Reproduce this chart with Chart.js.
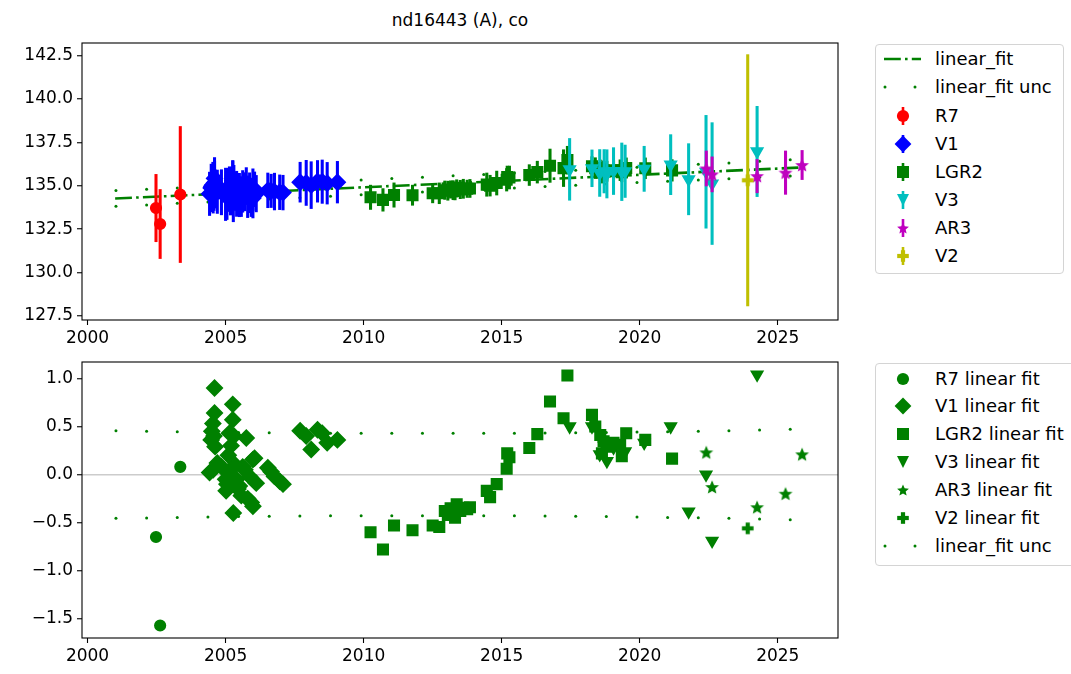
<!DOCTYPE html>
<html>
<head>
<meta charset="utf-8">
<script src="https://cdn.jsdelivr.net/npm/chart.js@4.4.1/dist/chart.umd.min.js"></script>
<style>
  html, body { margin: 0; padding: 0; background: #fff; }
  #fig { position: relative; width: 1071px; height: 674px; overflow: hidden; font-family: 'DejaVu Sans', sans-serif; color: #000; }
  #title { position: absolute; left: 82px; width: 756px; top: 9px; line-height: 22px; text-align: center; font-size: 17px; }
  .wrap { position: absolute; left: 0; width: 860px; }
  #topWrap { top: 0; height: 356px; }
  #botWrap { top: 344px; height: 330px; }
  .legend { position: absolute; left: 875px; border: 1px solid #d4d4d4; border-radius: 4px; background: #fff; font-size: 18px; }
  .legend .row { position: absolute; left: 0; height: 28px; width: 100%; white-space: nowrap; }
  .legend svg { position: absolute; left: 0; top: 0; }
  .legend span { position: absolute; left: 59px; top: 0; line-height: 28px; }
</style>
</head>
<body>
<div id="fig">
  <div id="title">nd16443 (A), co</div>
  <div class="wrap" id="topWrap"><canvas id="topCanvas"></canvas></div>
  <div class="wrap" id="botWrap"><canvas id="botCanvas"></canvas></div>
  <div class="legend" id="topLegend" style="top:44px; width:187px; height:228px;"></div>
  <div class="legend" id="botLegend" style="top:363px; width:210px; height:201px;"></div>
</div>
<script>
// axis limits
const X_MIN = 1999.8, X_MAX = 2027.18;
const TOP_MIN = 127.27, TOP_MAX = 143.23;
const BOT_MIN = -1.70, BOT_MAX = 1.17;
const xTicksStep = 5;

// linear fit
const fitX = [2001.0, 2025.9];
const fitY = [134.27, 136.06];

// fit uncertainty (dots)
const uncX = [2001.03, 2002.14, 2003.25, 2004.36, 2005.47, 2006.58, 2007.69, 2008.80, 2009.91, 2011.02, 2012.13, 2013.24,
  2014.35, 2015.46, 2016.57, 2017.68, 2018.79, 2019.90, 2021.01, 2022.12, 2023.23, 2024.34, 2025.45];
const uncTopHi = [134.73, 134.80, 134.88, 134.95, 135.03, 135.11, 135.18, 135.26, 135.34, 135.42, 135.50, 135.58,
  135.66, 135.74, 135.82, 135.90, 135.99, 136.07, 136.16, 136.24, 136.32, 136.41, 136.50];
const uncTopLo = [133.82, 133.90, 133.99, 134.07, 134.16, 134.24, 134.32, 134.40, 134.48, 134.56, 134.64, 134.72,
  134.80, 134.88, 134.96, 135.04, 135.11, 135.19, 135.26, 135.34, 135.41, 135.49, 135.56];
const uncResHi = [0.456, 0.451, 0.446, 0.441, 0.436, 0.434, 0.431, 0.430, 0.429, 0.429, 0.428, 0.428,
  0.428, 0.429, 0.431, 0.434, 0.437, 0.441, 0.446, 0.450, 0.456, 0.463, 0.470];
const uncResLo = [-0.456, -0.451, -0.446, -0.441, -0.436, -0.434, -0.431, -0.430, -0.429, -0.429, -0.428, -0.428,
  -0.428, -0.429, -0.431, -0.434, -0.437, -0.441, -0.446, -0.450, -0.456, -0.463, -0.470];

// R7
const r7X = [2002.48, 2002.63, 2003.36];
const r7Y = [133.72, 132.80, 134.50];
const r7Err = [1.94, 1.99, 3.92];
const r7Res = [-0.65, -1.57, 0.08];

// V1
const v1X = [2004.42, 2004.48, 2004.50, 2004.54, 2004.55, 2004.58, 2004.60, 2004.60, 2004.62, 2004.70, 2004.85, 2005.00,
  2005.02, 2005.05, 2005.10, 2005.14, 2005.18, 2005.20, 2005.26, 2005.26, 2005.28, 2005.30, 2005.35, 2005.40,
  2005.45, 2005.50, 2005.57, 2005.62, 2005.70, 2005.75, 2005.80, 2005.87, 2005.93, 2005.99, 2005.99, 2006.05,
  2006.11, 2006.53, 2006.65, 2006.77, 2006.96, 2007.08,
  2007.70, 2007.92, 2008.10, 2008.33, 2008.50, 2008.68, 2009.05];
const v1Y = [134.54, 134.88, 134.97, 135.06, 134.58, 134.93, 135.43, 135.17, 134.82, 134.66, 134.63, 134.51,
  134.39, 134.46, 134.77, 135.00, 134.62, 134.87, 135.31, 135.15, 134.18, 134.98, 134.68, 134.54,
  134.44, 134.47, 134.38, 134.68, 134.66, 134.99, 134.37, 134.60, 134.33, 134.78, 134.30, 134.80,
  134.55, 134.74, 134.71, 134.67, 134.63, 134.61,
  135.21, 135.17, 135.04, 135.26, 135.24, 135.15, 135.21];
const v1Err = [1.25, 1.37, 1.20, 1.30, 1.15, 1.35, 1.20, 1.25, 1.10, 1.25, 1.30, 1.51,
  1.20, 1.40, 1.25, 1.10, 1.30, 1.20, 1.15, 1.28, 1.25, 1.20, 1.10, 1.30,
  1.06, 1.25, 1.15, 1.20, 1.10, 1.06, 1.20, 1.15, 1.10, 1.20, 1.15, 1.00,
  1.05, 1.00, 0.96, 1.06, 1.00, 1.00,
  1.15, 1.30, 1.35, 1.20, 1.25, 1.20, 1.20];
const v1Res = [0.02, 0.36, 0.45, 0.53, 0.05, 0.40, 0.90, 0.64, 0.29, 0.12, 0.08, -0.05,
  -0.17, -0.10, 0.20, 0.43, 0.05, 0.30, 0.73, 0.57, -0.40, 0.40, 0.10, -0.05,
  -0.15, -0.12, -0.22, 0.08, 0.05, 0.38, -0.25, -0.02, -0.29, 0.155, -0.33, 0.17,
  -0.09, 0.07, 0.03, -0.02, -0.07, -0.10,
  0.455, 0.40, 0.26, 0.465, 0.43, 0.33, 0.36];

// LGR2
const lgrX = [2010.25, 2010.70, 2011.10, 2011.77, 2012.50, 2012.74, 2012.94, 2013.05, 2013.15, 2013.24, 2013.31, 2013.37,
  2013.50, 2013.61, 2013.75, 2013.85, 2014.46, 2014.58, 2014.82, 2015.18, 2015.20, 2015.28, 2016.00, 2016.29,
  2016.75, 2017.24, 2017.38, 2018.27, 2018.39, 2018.57, 2018.63, 2018.69, 2018.81, 2019.05, 2019.29, 2019.35,
  2019.51, 2020.20, 2021.17];
const lgrY = [134.34, 134.19, 134.47, 134.46, 134.57, 134.57, 134.75, 134.72, 134.79, 134.75, 134.71, 134.85,
  134.79, 134.83, 134.83, 134.85, 135.07, 135.01, 135.16, 135.35, 135.51, 135.48, 135.62, 135.79,
  136.16, 136.02, 136.48, 136.13, 136.02, 135.94, 135.76, 135.89, 135.84, 135.90, 135.90, 135.78,
  136.03, 136.01, 135.89];
const lgrErr = [0.70, 0.65, 0.70, 0.58, 0.55, 0.60, 0.53, 0.55, 0.50, 0.55, 0.52, 0.50,
  0.53, 0.55, 0.50, 0.52, 0.67, 0.60, 0.69, 0.65, 0.63, 0.66, 0.60, 0.63,
  0.96, 1.06, 0.80, 0.55, 0.60, 0.55, 0.60, 0.55, 0.58, 0.55, 0.60, 0.55,
  0.58, 0.60, 0.62];
const lgrRes = [-0.60, -0.78, -0.53, -0.58, -0.53, -0.545, -0.38, -0.42, -0.35, -0.40, -0.45, -0.31,
  -0.38, -0.345, -0.36, -0.34, -0.17, -0.235, -0.10, 0.06, 0.22, 0.18, 0.275, 0.42,
  0.76, 0.585, 1.03, 0.62, 0.50, 0.41, 0.22, 0.345, 0.29, 0.33, 0.31, 0.19,
  0.43, 0.36, 0.165];

// V3
const v3X = [2017.46, 2018.27, 2018.55, 2018.71, 2018.81, 2019.05, 2019.35, 2019.47, 2020.16, 2021.12, 2021.77, 2022.40, 2022.62, 2024.25];
const v3Y = [135.95, 136.01, 135.74, 135.84, 135.69, 135.85, 135.81, 135.84, 135.98, 136.22, 135.38, 135.81, 135.13, 136.98];
const v3Err = [1.78, 1.06, 1.35, 1.25, 1.39, 1.35, 1.66, 1.51, 1.30, 1.73, 2.05, 3.25, 3.51, 2.60];
const v3Res = [0.50, 0.50, 0.21, 0.30, 0.14, 0.28, 0.22, 0.24, 0.33, 0.50, -0.385, 0.00, -0.69, 1.04];

// AR3
const ar3X = [2022.41, 2022.62, 2024.25, 2025.28, 2025.88];
const ar3Y = [136.00, 135.66, 135.56, 135.76, 136.20];
const ar3Err = [1.01, 1.01, 0.96, 1.25, 0.84];
const ar3Res = [0.23, -0.13, -0.34, -0.20, 0.21];

// V2
const v2X = [2023.91];
const v2Y = [135.32];
const v2Err = [7.24];
const v2Res = [-0.56];

const RED = '#ff0000', BLUE = '#0000ff', GREEN = '#008000', CYAN = '#00bfbf', MAG = '#bf00bf', YEL = '#bfbf00';
const FONT = { family: 'DejaVu Sans', size: 17 };

// filled star / filled plus marker images
function starImg(color) {
  const s = 16, c = document.createElement('canvas');
  c.width = c.height = s;
  const g = c.getContext('2d'), R = 5.6, r = R * 0.45;
  g.beginPath();
  for (let i = 0; i < 10; i++) {
    const a = -Math.PI / 2 + i * Math.PI / 5, rr = i % 2 ? r : R;
    g.lineTo(s / 2 + rr * Math.cos(a), s / 2 + 0.6 + rr * Math.sin(a));
  }
  g.closePath();
  g.fillStyle = color; g.strokeStyle = color; g.lineWidth = 1.3;
  g.fill(); g.stroke();
  return c;
}
function plusImg(color) {
  const s = 14, c = document.createElement('canvas');
  c.width = c.height = s;
  const g = c.getContext('2d'), L = 11.6, t = 4.2;
  g.fillStyle = color;
  g.fillRect((s - L) / 2, (s - t) / 2, L, t);
  g.fillRect((s - t) / 2, (s - L) / 2, t, L);
  return c;
}

function xy(xs, ys) { return xs.map((x, i) => ({ x: x, y: ys[i] })); }

function errBars(xs, ys, es, color) {
  return {
    type: 'bar',
    data: xs.map((x, i) => ({ x: x, y: [ys[i] - es[i], ys[i] + es[i]] })),
    backgroundColor: color, borderWidth: 0, barThickness: 2.4, grouped: false
  };
}

function marks(xs, ys, color, style, radius, rot) {
  return {
    type: 'scatter',
    data: xy(xs, ys),
    pointStyle: style, radius: radius, rotation: rot || 0,
    backgroundColor: color, borderColor: color,
    borderWidth: (typeof style === 'string') ? 1.6 : 0
  };
}

function uncDots(xs, hi, lo) {
  return {
    type: 'scatter',
    data: xy(xs, hi).concat(xy(xs, lo)),
    pointStyle: 'circle', radius: 1.5, borderWidth: 0, backgroundColor: GREEN
  };
}

function withOrder(list) {
  list.forEach((d, i) => { d.order = list.length - i; });
  return list;
}

const framePlugin = {
  id: 'frame',
  afterDraw(chart) {
    const { ctx, chartArea: a } = chart;
    ctx.save();
    ctx.strokeStyle = '#000';
    ctx.lineWidth = 1.1;
    ctx.strokeRect(a.left, a.top, a.right - a.left, a.bottom - a.top);
    ctx.restore();
  }
};

function xAxis(h) {
  return {
    type: 'linear', min: X_MIN, max: X_MAX, offset: false,
    afterFit: s => { s.height = h; },
    grid: { offset: false, drawOnChartArea: false, tickLength: 5, tickColor: '#000', tickWidth: 1.1 },
    border: { display: false },
    ticks: {
      stepSize: xTicksStep, includeBounds: false, autoSkip: false, maxRotation: 0, padding: 3,
      color: '#000', font: FONT, callback: v => String(v)
    }
  };
}

function yAxis(min, max, step, fmt, gridColor) {
  return {
    type: 'linear', min: min, max: max, beginAtZero: false,
    afterFit: s => { s.width = 82; },
    grid: {
      drawOnChartArea: !!gridColor, color: gridColor || 'rgba(0,0,0,0)', lineWidth: 1.5,
      tickLength: 5, tickColor: '#000', tickWidth: 1.1
    },
    border: { display: false },
    ticks: { stepSize: step, includeBounds: false, autoSkip: false, padding: 4, color: '#000', font: FONT, callback: fmt }
  };
}

const fmtDec = v => (v < 0 ? '\u2212' : '') + Math.abs(v).toFixed(1);

const baseOpts = {
  responsive: true, maintainAspectRatio: false, animation: false, events: [],
  plugins: { legend: { display: false }, tooltip: { enabled: false }, title: { display: false } }
};

// top panel: values with error bars
const topSets = withOrder([
  {
    type: 'line', data: xy(fitX, fitY), borderColor: GREEN, borderWidth: 2.6,
    borderDash: [16.8, 4.2, 2.6, 4.2], pointRadius: 0, fill: false, tension: 0
  },
  uncDots(uncX, uncTopHi, uncTopLo),
  errBars(r7X, r7Y, r7Err, RED), marks(r7X, r7Y, RED, 'circle', 5.3),
  errBars(v1X, v1Y, v1Err, BLUE), marks(v1X, v1Y, BLUE, 'rectRot', 7.8),
  errBars(lgrX, lgrY, lgrErr, GREEN), marks(lgrX, lgrY, GREEN, 'rect', 7.4),
  errBars(v3X, v3Y, v3Err, CYAN), marks(v3X, v3Y, CYAN, 'triangle', 6.6, 180),
  errBars(ar3X, ar3Y, ar3Err, MAG), marks(ar3X, ar3Y, MAG, starImg(MAG), 7),
  errBars(v2X, v2Y, v2Err, YEL), marks(v2X, v2Y, YEL, plusImg(YEL), 7)
]);

new Chart(document.getElementById('topCanvas'), {
  type: 'scatter',
  data: { datasets: topSets },
  options: Object.assign({}, baseOpts, {
    layout: { padding: { left: 0, top: 43, right: 22, bottom: 0 } },
    scales: { x: xAxis(36), y: yAxis(TOP_MIN, TOP_MAX, 2.5, v => v.toFixed(1)) }
  }),
  plugins: [framePlugin]
});

// bottom panel: residuals of the linear fit
const botSets = withOrder([
  marks(r7X, r7Res, GREEN, 'circle', 5.3),
  marks(v1X, v1Res, GREEN, 'rectRot', 7.8),
  marks(lgrX, lgrRes, GREEN, 'rect', 7.4),
  marks(v3X, v3Res, GREEN, 'triangle', 6.6, 180),
  marks(ar3X, ar3Res, GREEN, starImg(GREEN), 7),
  marks(v2X, v2Res, GREEN, plusImg(GREEN), 7),
  uncDots(uncX, uncResHi, uncResLo)
]);

new Chart(document.getElementById('botCanvas'), {
  type: 'scatter',
  data: { datasets: botSets },
  options: Object.assign({}, baseOpts, {
    layout: { padding: { left: 0, top: 18, right: 22, bottom: 0 } },
    scales: {
      x: xAxis(36),
      y: yAxis(BOT_MIN, BOT_MAX, 0.5, fmtDec, c => (c.tick && c.tick.value === 0 ? '#cccccc' : 'rgba(0,0,0,0)'))
    }
  }),
  plugins: [framePlugin]
});

// legends
const CX = 27;
function svgWrap(inner) {
  return '<svg width="56" height="28" viewBox="0 0 56 28">' + inner + '</svg>';
}
function vbar(color) {
  return '<line x1="' + CX + '" x2="' + CX + '" y1="5" y2="23" stroke="' + color + '" stroke-width="2.6"/>';
}
const shapes = {
  circle: c => '<circle cx="' + CX + '" cy="14" r="6.1" fill="' + c + '"/>',
  diamond: c => '<polygon points="' + (CX - 8.4) + ',14 ' + CX + ',5.6 ' + (CX + 8.4) + ',14 ' + CX + ',22.4" fill="' + c + '"/>',
  square: c => '<rect x="' + (CX - 6) + '" y="8" width="12" height="12" fill="' + c + '"/>',
  tri: c => '<polygon points="' + (CX - 6) + ',8 ' + (CX + 6) + ',8 ' + CX + ',20" fill="' + c + '"/>',
  star: c => {
    let p = [];
    for (let i = 0; i < 10; i++) {
      const a = -Math.PI / 2 + i * Math.PI / 5, rr = i % 2 ? 2.8 : 6.2;
      p.push((CX + rr * Math.cos(a)).toFixed(2) + ',' + (14.6 + rr * Math.sin(a)).toFixed(2));
    }
    return '<polygon points="' + p.join(' ') + '" fill="' + c + '"/>';
  },
  plus: c => '<rect x="' + (CX - 5.8) + '" y="11.9" width="11.6" height="4.2" fill="' + c + '"/>' +
    '<rect x="' + (CX - 2.1) + '" y="8.2" width="4.2" height="11.6" fill="' + c + '"/>'
};
const dashLine = '<line x1="8" x2="45" y1="14" y2="14" stroke="' + GREEN + '" stroke-width="2.6" stroke-dasharray="16.8 4.2 2.6 4.2"/>';
const twoDots = '<circle cx="9" cy="14" r="1.5" fill="' + GREEN + '"/><circle cx="39" cy="14" r="1.5" fill="' + GREEN + '"/>';

function fillLegend(id, rows, tops) {
  const box = document.getElementById(id);
  rows.forEach((r, i) => {
    const d = document.createElement('div');
    d.className = 'row';
    d.style.top = tops[i] + 'px';
    d.innerHTML = svgWrap(r[0]) + '<span>' + r[1] + '</span>';
    box.appendChild(d);
  });
}

fillLegend('topLegend', [
  [dashLine, 'linear_fit'],
  [twoDots, 'linear_fit unc'],
  [vbar(RED) + shapes.circle(RED), 'R7'],
  [vbar(BLUE) + shapes.diamond(BLUE), 'V1'],
  [vbar(GREEN) + shapes.square(GREEN), 'LGR2'],
  [vbar(CYAN) + shapes.tri(CYAN), 'V3'],
  [vbar(MAG) + shapes.star(MAG), 'AR3'],
  [vbar(YEL) + shapes.plus(YEL), 'V2']
], [0, 28, 57, 85, 113, 141, 169, 197]);

fillLegend('botLegend', [
  [shapes.circle(GREEN), 'R7 linear fit'],
  [shapes.diamond(GREEN), 'V1 linear fit'],
  [shapes.square(GREEN), 'LGR2 linear fit'],
  [shapes.tri(GREEN), 'V3 linear fit'],
  [shapes.star(GREEN), 'AR3 linear fit'],
  [shapes.plus(GREEN), 'V2 linear fit'],
  [twoDots, 'linear_fit unc']
], [1, 28, 56, 84, 112, 140, 168]);
</script>
</body>
</html>
